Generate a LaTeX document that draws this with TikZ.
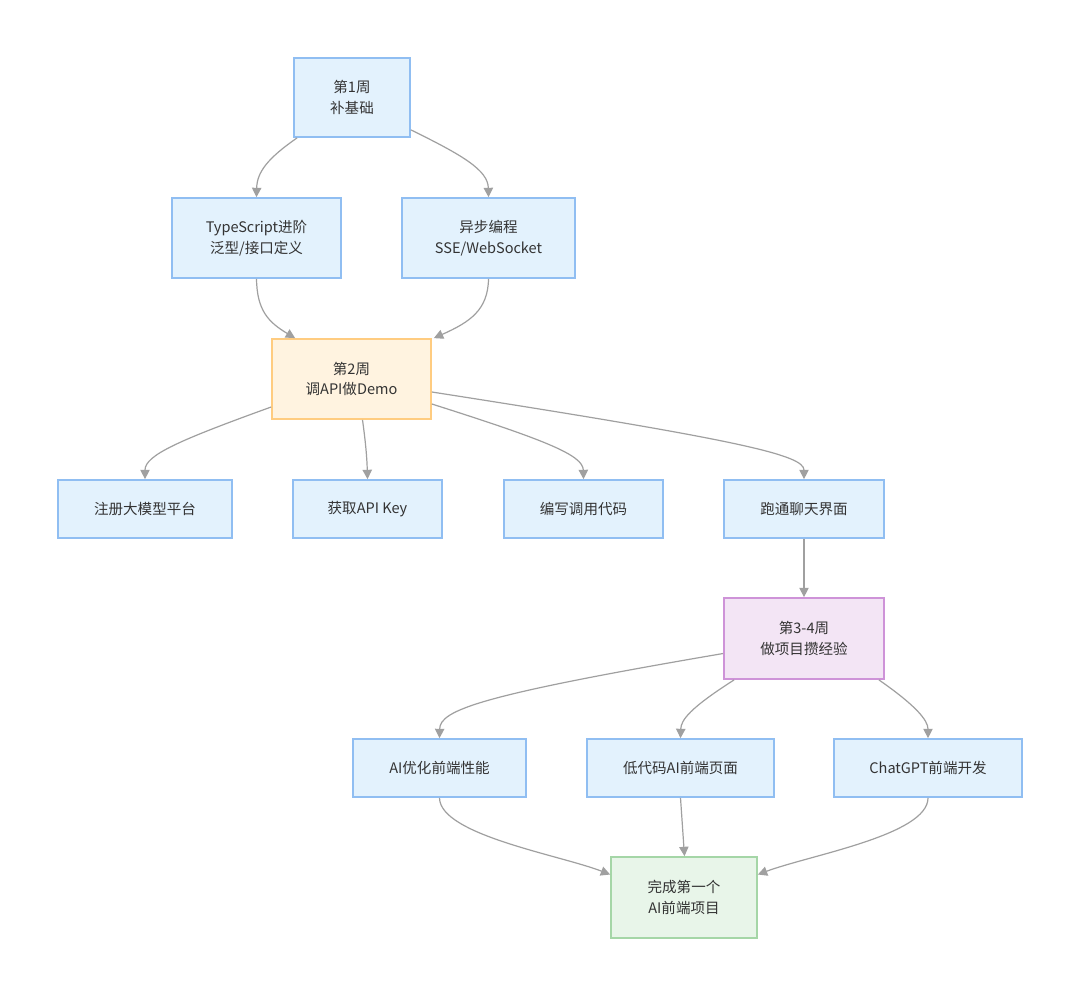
\documentclass[tikz,border=0pt]{standalone}
\usepackage{fontspec}
\setmainfont{Noto Sans CJK SC}
\usetikzlibrary{arrows.meta,calc}
\definecolor{bfill}{HTML}{E3F2FD}
\definecolor{bdraw}{HTML}{90BEF2}
\definecolor{ofill}{HTML}{FFF3E0}
\definecolor{odraw}{HTML}{FFCC80}
\definecolor{pfill}{HTML}{F3E5F5}
\definecolor{pdraw}{HTML}{CE93D8}
\definecolor{gfill}{HTML}{E8F5E9}
\definecolor{gdraw}{HTML}{A5D6A7}
\definecolor{edgec}{HTML}{A0A0A0}
\definecolor{txt}{HTML}{333333}
\tikzset{
  box/.style={rectangle, line width=1.3pt, inner sep=0pt, align=center,
    text=txt, font=\fontsize{10.9pt}{15.5pt}\selectfont},
  bluebox/.style={box, fill=bfill, draw=bdraw},
  orangebox/.style={box, fill=ofill, draw=odraw},
  purplebox/.style={box, fill=pfill, draw=pdraw},
  greenbox/.style={box, fill=gfill, draw=gdraw},
  edge/.style={draw=edgec, line width=0.9pt,
    -{Triangle[length=7pt,width=7pt,fill=edgec,color=edgec]}}
}
\begin{document}
\begin{tikzpicture}[x=0.75pt,y=-0.75pt]
\useasboundingbox (0,0) rectangle (1080,996);
\fill[white] (0,0) rectangle (1080,996);

\node[bluebox, minimum width=87pt, minimum height=59.25pt] (w1) at (352,97.5) {第1周\\补基础};
\node[bluebox, minimum width=126.75pt, minimum height=60pt] (ts) at (256.5,238) {TypeScript进阶\\泛型/接口定义};
\node[bluebox, minimum width=129.75pt, minimum height=60pt] (as) at (488.5,238) {异步编程\\SSE/WebSocket};
\node[orangebox, minimum width=119.25pt, minimum height=60pt] (w2) at (351.5,379) {第2周\\调API做Demo};
\node[bluebox, minimum width=130.5pt, minimum height=43.5pt] (reg) at (145,509) {注册大模型平台};
\node[bluebox, minimum width=111.75pt, minimum height=43.5pt] (key) at (367.5,509) {获取API Key};
\node[bluebox, minimum width=119.25pt, minimum height=43.5pt] (code) at (583.5,509) {编写调用代码};
\node[bluebox, minimum width=120pt, minimum height=43.5pt] (chat) at (804,509) {跑通聊天界面};
\node[purplebox, minimum width=120pt, minimum height=60.75pt] (w34) at (804,638.5) {第3-4周\\做项目攒经验};
\node[bluebox, minimum width=129.75pt, minimum height=43.5pt] (opt) at (439.5,768) {AI优化前端性能};
\node[bluebox, minimum width=140.25pt, minimum height=43.5pt] (low) at (680.5,768) {低代码AI前端页面};
\node[bluebox, minimum width=141pt, minimum height=43.5pt] (gpt) at (928,768) {ChatGPT前端开发};
\node[greenbox, minimum width=109.5pt, minimum height=60.75pt] (done) at (684,897.5) {完成第一个\\AI前端项目};

\draw[edge] ($(w1.south west)+(4,0)$) .. controls (268,158) and (257,172) .. (ts.north);
\draw[edge] ($(w1.south east)+(0,-8)$) .. controls (462,155) and (488,170) .. (as.north);
\draw[edge] (ts.south) .. controls (257,310) and (268,322) .. ($(w2.north west)+(24,0)$);
\draw[edge] (as.south) .. controls (488,310) and (470,322) .. ($(w2.north east)+(2,0)$);
\draw[edge] ($(w2.west)+(0,28)$) .. controls (180,440) and (145,455) .. (reg.north);
\draw[edge] ($(w2.south)+(11,0)$) .. controls (366,445) and (367,460) .. (key.north);
\draw[edge] ($(w2.east)+(0,25)$) .. controls (545,440) and (583,455) .. (code.north);
\draw[edge] ($(w2.east)+(0,13)$) .. controls (740,440) and (804,455) .. (chat.north);
\draw[edge] (chat.south) -- (w34.north);
\draw[edge] ($(w34.west)+(0,15)$) .. controls (480,695) and (440,710) .. (opt.north);
\draw[edge] ($(w34.south west)+(11,0)$) .. controls (690,708) and (681,720) .. (low.north);
\draw[edge] ($(w34.south east)+(-6,0)$) .. controls (915,705) and (928,720) .. (gpt.north);
\draw[edge] (opt.south) .. controls (440,835) and (560,855) .. ($(done.west)+(0,-23)$);
\draw[edge] (low.south) -- ($(done.north)+(0.5,0)$);
\draw[edge] (gpt.south) .. controls (928,835) and (810,855) .. ($(done.east)+(0,-23)$);
\end{tikzpicture}
\end{document}
